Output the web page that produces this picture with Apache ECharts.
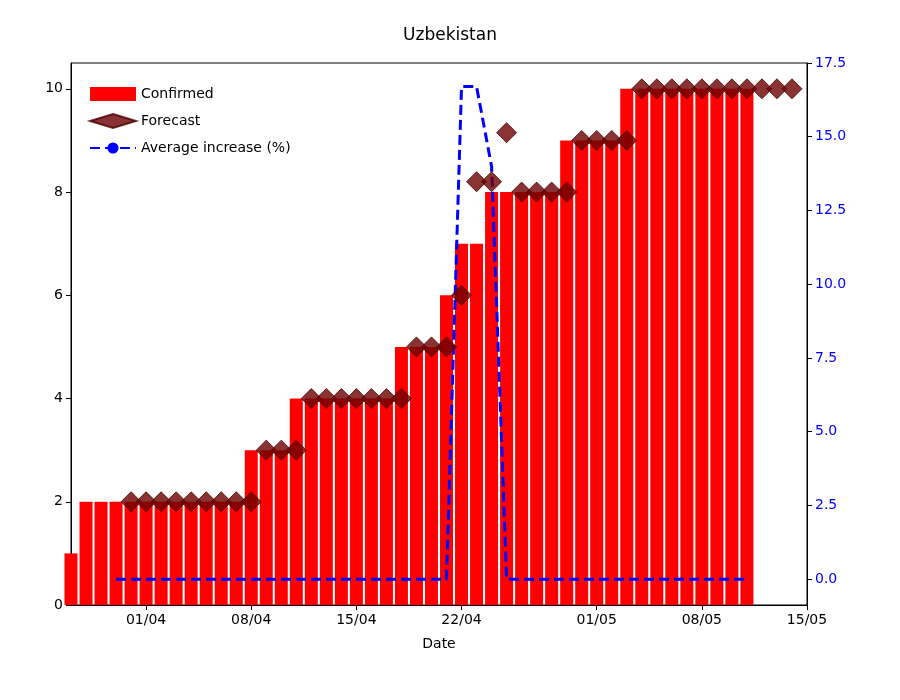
<!DOCTYPE html>
<html>
<head>
<meta charset="utf-8">
<script src="https://cdn.jsdelivr.net/npm/echarts@6/dist/echarts.min.js"></script>
<style>html,body{margin:0;padding:0;background:#fff}#chart{width:900px;height:700px}</style>
</head>
<body>
<div id="chart"></div>
<script>
// day 0 = 27/03
const startDay = new Date(2020, 2, 27);
const tickDays = [5, 12, 19, 26, 35, 42, 49];
const tickLabels = ["01/04", "08/04", "15/04", "22/04", "01/05", "08/05", "15/05"];

// confirmed from day 0 (27/03) to day 45 (11/05)
const confirmed = [1,
  2,2,2,2,2,2,2,2,2,2,2,
  3,3,3,
  4,4,4,4,4,4,4,
  5,5,5,
  6,
  7,7,
  8,8,8,8,8,
  9,9,9,9,
  10,10,10,10,10,10,10,10,10];

// forecast from day 4 (31/03) to day 48 (14/05)
const forecastStart = 4;
const forecast = [2,2,2,2,2,2,2,2,2,
  3,3,3,
  4,4,4,4,4,4,4,
  5,5,5,
  6,
  8.2,8.2,
  9.15,
  8,8,8,8,
  9,9,9,9,
  10,10,10,10,10,10,10,10,10,10,10];

// average increase (%) from day 3 (30/03) to day 45 (11/05)
const avgStart = 3;
const avgIncrease = [0,0,0,0,0,0,0,0,0,0,0,0,0,0,0,0,0,0,0,0,0,0,0,
  16.7,16.7,14.0,0,
  0,0,0,0,0,0,0,0,0,0,0,0,0,0,0,0];

const rightTicks = [0, 2.5, 5, 7.5, 10, 12.5, 15, 17.5];

const chart = echarts.init(document.getElementById("chart"));
const font = "DejaVu Sans";

chart.setOption({
  animation: false,
  textStyle: { fontFamily: font },
  title: {
    text: "Uzbekistan", left: "center", top: 22,
    textStyle: { fontFamily: font, fontSize: 17, fontWeight: "normal", color: "#000" }
  },
  grid: { left: 71, right: 93, top: 63, bottom: 95, show: true, borderColor: "#000", borderWidth: 1 },
  legend: {
    orient: "vertical", left: 84, top: 82, itemGap: 12,
    itemWidth: 46, itemHeight: 14,
    textStyle: { fontFamily: font, fontSize: 14, color: "#000" },
    data: [
      { name: "Confirmed", icon: "rect" },
      { name: "Forecast", icon: "diamond" },
      { name: "Average increase (%)" }
    ]
  },
  xAxis: {
    type: "value", min: 0, max: 49,
    name: "Date", nameLocation: "middle", nameGap: 32,
    nameTextStyle: { fontFamily: font, fontSize: 14, color: "#000" },
    splitLine: { show: false },
    axisLine: { lineStyle: { color: "#000" } },
    axisTick: { customValues: tickDays, lineStyle: { color: "#000" } },
    axisLabel: {
      customValues: tickDays, fontSize: 14, color: "#000",
      formatter: v => tickLabels[tickDays.indexOf(v)] || ""
    }
  },
  yAxis: [
    {
      type: "value", min: 0, max: 10.5, interval: 2,
      splitLine: { show: false },
      axisLine: { show: true, lineStyle: { color: "#000" } },
      axisTick: { show: true, lineStyle: { color: "#000" } },
      axisLabel: { fontSize: 14, color: "#000", showMaxLabel: false }
    },
    {
      type: "value", min: -0.875, max: 17.5, position: "right",
      splitLine: { show: false },
      axisLine: { show: true, lineStyle: { color: "#000" } },
      axisTick: { show: true, customValues: rightTicks, lineStyle: { color: "#000" } },
      axisLabel: { customValues: rightTicks, fontSize: 14, color: "#0000ff", formatter: v => v.toFixed(1) }
    }
  ],
  series: [
    {
      name: "Confirmed", type: "bar", barWidth: 13,
      itemStyle: { color: "#ff0000" },
      data: confirmed.map((v, i) => [i, v])
    },
    {
      name: "Forecast", type: "scatter", symbol: "diamond", symbolSize: 20,
      itemStyle: { color: "#6b0000", borderColor: "#4a0000", borderWidth: 1 },
      data: forecast.map((v, i) => [i + forecastStart, v]),
      z: 5
    },
    {
      name: "Average increase (%)", type: "line", yAxisIndex: 1,
      showSymbol: false, symbol: "none",
      lineStyle: { color: "#0000ff", width: 3, type: [10, 5] },
      itemStyle: { color: "#0000ff" },
      data: avgIncrease.map((v, i) => [i + avgStart, v]),
      z: 4
    }
  ]
});
</script>
</body>
</html>
